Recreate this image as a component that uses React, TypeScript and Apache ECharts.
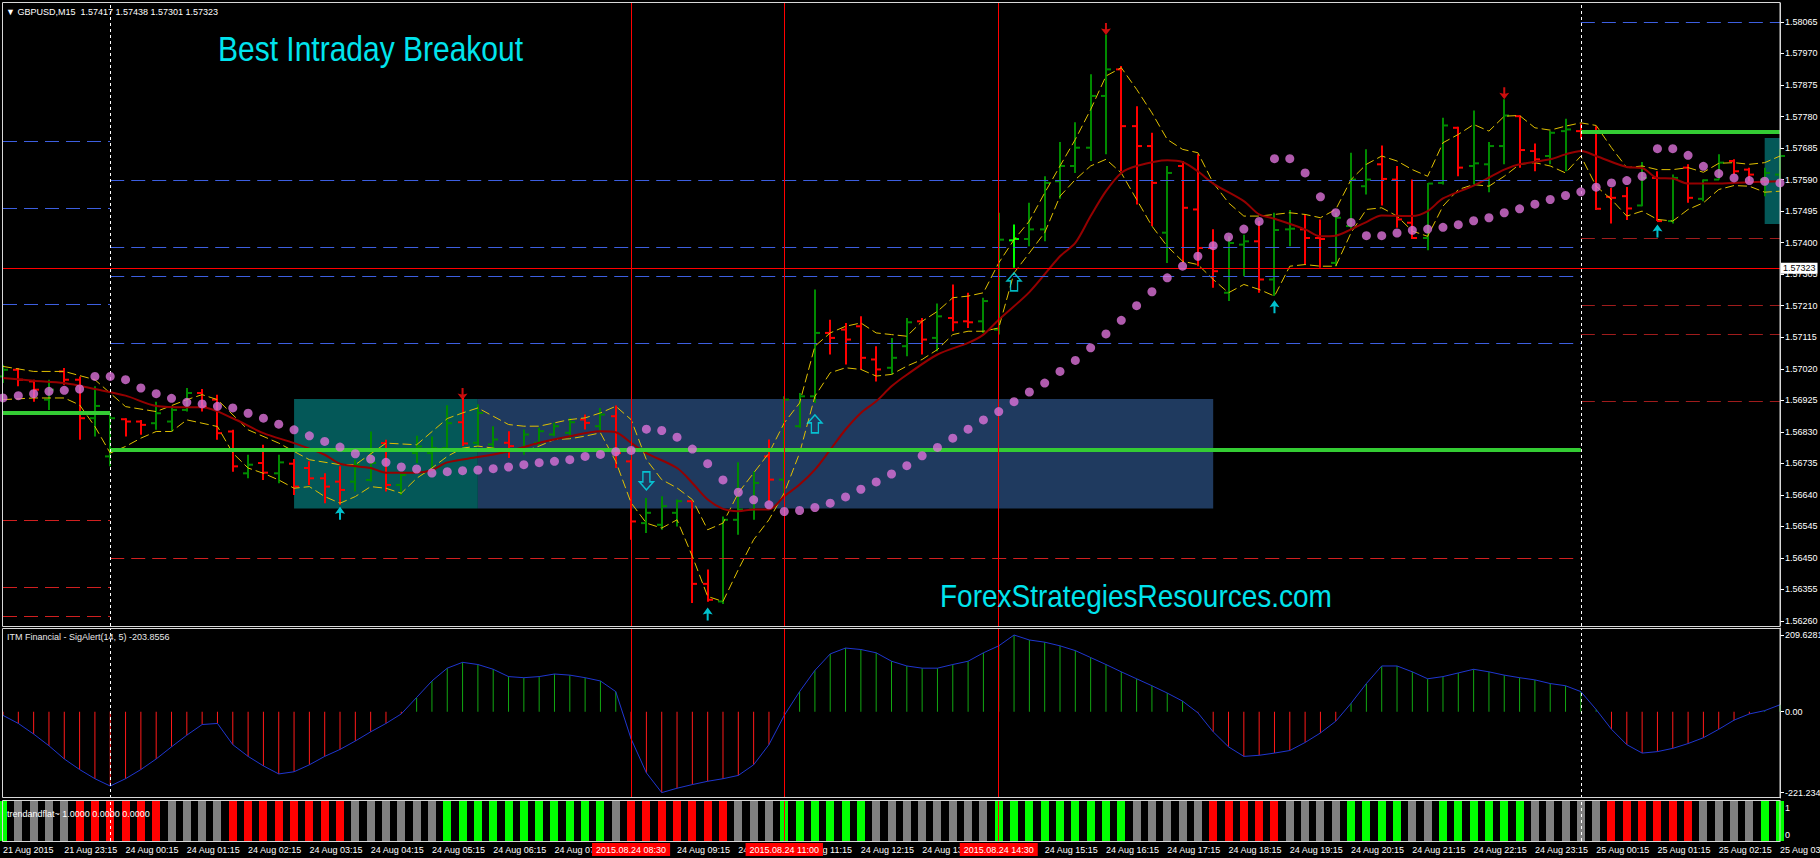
import React, { useEffect, useRef } from "react";
import * as echarts from "echarts";

// ---------- DATA ----------
const TICK_LABELS = [
  "21 Aug 2015", "21 Aug 23:15",
  "24 Aug 00:15", "24 Aug 01:15", "24 Aug 02:15", "24 Aug 03:15", "24 Aug 04:15", "24 Aug 05:15",
  "24 Aug 06:15", "24 Aug 07:15", "24 Aug 08:15", "24 Aug 09:15", "24 Aug 10:15", "24 Aug 11:15",
  "24 Aug 12:15", "24 Aug 13:15", "24 Aug 14:15", "24 Aug 15:15", "24 Aug 16:15", "24 Aug 17:15",
  "24 Aug 18:15", "24 Aug 19:15", "24 Aug 20:15", "24 Aug 21:15", "24 Aug 22:15", "24 Aug 23:15",
  "25 Aug 00:15", "25 Aug 01:15", "25 Aug 02:15", "25 Aug 03:15",
];

const OPEN = [
  1.56997, 1.57017, 1.56982, 1.56927, 1.57012, 1.56987, 1.56871, 1.56756, 1.56868, 1.56861,
  1.56856, 1.56861, 1.56896, 1.56947, 1.56927, 1.56831, 1.56705, 1.56736, 1.56705, 1.56734,
  1.56721, 1.56690, 1.56680, 1.56680, 1.56685, 1.56796, 1.56670, 1.56766, 1.56766, 1.56781,
  1.56859, 1.56797, 1.56792, 1.56797, 1.56776, 1.56797, 1.56822, 1.56827, 1.56867, 1.56847,
  1.56877, 1.56741, 1.56555, 1.56550, 1.56586, 1.56621, 1.56372, 1.56319, 1.56565, 1.56596,
  1.56756, 1.56686, 1.56847, 1.56937, 1.57128, 1.57138, 1.57148, 1.57048, 1.57023, 1.57088,
  1.57163, 1.57113, 1.57173, 1.57163, 1.57163, 1.57138, 1.57407, 1.57411, 1.57440, 1.57585,
  1.57631, 1.57686, 1.57842, 1.57922, 1.57751, 1.57691, 1.57430, 1.57631, 1.57500, 1.57384,
  1.57249, 1.57394, 1.57404, 1.57289, 1.57440, 1.57440, 1.57414, 1.57339, 1.57450, 1.57570,
  1.57636, 1.57590, 1.57460, 1.57414, 1.57580, 1.57746, 1.57631, 1.57636, 1.57691, 1.57781,
  1.57676, 1.57661, 1.57736, 1.57736, 1.57736, 1.57538, 1.57540, 1.57512, 1.57595, 1.57465,
  1.57626, 1.57532, 1.57590, 1.57646, 1.57620, 1.57590, 1.57605,
];
const HIGH = [
  1.57032, 1.57022, 1.56987, 1.56987, 1.57022, 1.56997, 1.56967, 1.56881, 1.56871, 1.56866,
  1.56921, 1.56906, 1.56962, 1.56959, 1.56942, 1.56836, 1.56761, 1.56791, 1.56761, 1.56748,
  1.56741, 1.56705, 1.56726, 1.56746, 1.56831, 1.56806, 1.56705, 1.56818, 1.56816, 1.56910,
  1.56932, 1.56912, 1.56847, 1.56832, 1.56837, 1.56842, 1.56857, 1.56872, 1.56882, 1.56902,
  1.56909, 1.56746, 1.56631, 1.56636, 1.56626, 1.56620, 1.56415, 1.56575, 1.56738, 1.56711,
  1.56807, 1.56937, 1.56947, 1.57259, 1.57168, 1.57158, 1.57178, 1.57088, 1.57113, 1.57173,
  1.57173, 1.57217, 1.57274, 1.57249, 1.57234, 1.57490, 1.57455, 1.57520, 1.57600, 1.57703,
  1.57763, 1.57907, 1.58027, 1.57932, 1.57811, 1.57731, 1.57631, 1.57646, 1.57666, 1.57440,
  1.57419, 1.57424, 1.57465, 1.57490, 1.57498, 1.57485, 1.57470, 1.57490, 1.57671, 1.57681,
  1.57693, 1.57631, 1.57590, 1.57580, 1.57776, 1.57749, 1.57798, 1.57703, 1.57832, 1.57783,
  1.57699, 1.57736, 1.57773, 1.57759, 1.57751, 1.57565, 1.57568, 1.57643, 1.57615, 1.57605,
  1.57636, 1.57590, 1.57666, 1.57651, 1.57626, 1.57626, 1.57681,
];
const LOW = [
  1.56977, 1.56967, 1.56921, 1.56896, 1.56972, 1.56806, 1.56816, 1.56726, 1.56816, 1.56821,
  1.56836, 1.56831, 1.56891, 1.56891, 1.56806, 1.56710, 1.56690, 1.56685, 1.56675, 1.56640,
  1.56670, 1.56615, 1.56610, 1.56650, 1.56680, 1.56650, 1.56640, 1.56736, 1.56715, 1.56770,
  1.56787, 1.56787, 1.56781, 1.56751, 1.56761, 1.56787, 1.56817, 1.56812, 1.56837, 1.56832,
  1.56721, 1.56505, 1.56525, 1.56535, 1.56545, 1.56314, 1.56318, 1.56311, 1.56520, 1.56565,
  1.56621, 1.56636, 1.56842, 1.56917, 1.57063, 1.57033, 1.57018, 1.56982, 1.57003, 1.57058,
  1.57063, 1.57073, 1.57133, 1.57143, 1.57128, 1.57123, 1.57324, 1.57389, 1.57404, 1.57532,
  1.57610, 1.57646, 1.57666, 1.57615, 1.57515, 1.57450, 1.57339, 1.57339, 1.57329, 1.57264,
  1.57224, 1.57299, 1.57249, 1.57239, 1.57389, 1.57334, 1.57324, 1.57329, 1.57440, 1.57545,
  1.57512, 1.57445, 1.57411, 1.57377, 1.57575, 1.57600, 1.57575, 1.57552, 1.57636, 1.57626,
  1.57615, 1.57636, 1.57615, 1.57713, 1.57498, 1.57458, 1.57468, 1.57510, 1.57465, 1.57458,
  1.57520, 1.57525, 1.57590, 1.57605, 1.57585, 1.57540, 1.57590,
];
const CLOSE = [
  1.57017, 1.56987, 1.56957, 1.56957, 1.56987, 1.56871, 1.56908, 1.56871, 1.56861, 1.56851,
  1.56886, 1.56896, 1.56947, 1.56906, 1.56826, 1.56726, 1.56731, 1.56707, 1.56738, 1.56665,
  1.56690, 1.56665, 1.56655, 1.56731, 1.56736, 1.56670, 1.56700, 1.56786, 1.56781, 1.56856,
  1.56795, 1.56887, 1.56807, 1.56787, 1.56822, 1.56832, 1.56847, 1.56859, 1.56857, 1.56882,
  1.56766, 1.56560, 1.56586, 1.56606, 1.56621, 1.56372, 1.56324, 1.56565, 1.56596, 1.56676,
  1.56686, 1.56927, 1.56937, 1.57128, 1.57113, 1.57108, 1.57053, 1.57018, 1.57053, 1.57160,
  1.57108, 1.57178, 1.57160, 1.57160, 1.57224, 1.57409, 1.57411, 1.57440, 1.57580, 1.57631,
  1.57686, 1.57842, 1.57922, 1.57751, 1.57691, 1.57580, 1.57610, 1.57505, 1.57384, 1.57314,
  1.57399, 1.57404, 1.57289, 1.57438, 1.57442, 1.57414, 1.57411, 1.57475, 1.57590, 1.57590,
  1.57592, 1.57470, 1.57414, 1.57578, 1.57753, 1.57626, 1.57639, 1.57691, 1.57783, 1.57679,
  1.57651, 1.57731, 1.57741, 1.57731, 1.57502, 1.57535, 1.57503, 1.57595, 1.57465, 1.57595,
  1.57535, 1.57588, 1.57641, 1.57615, 1.57605, 1.57610, 1.57661,
];
const HIGHLIGHT_BARS = [66];

const SAR = [
  1.56932, 1.56939, 1.56945, 1.56952, 1.56955, 1.56959, 1.56997, 1.56997, 1.56987, 1.56962,
  1.56945, 1.56931, 1.56919, 1.56914, 1.56907, 1.56902, 1.56886, 1.56871, 1.56853, 1.56836,
  1.56818, 1.56801, 1.56784, 1.56764, 1.56748, 1.56738, 1.56724, 1.56718, 1.56706, 1.56710,
  1.56713, 1.56715, 1.56719, 1.56724, 1.56731, 1.56737, 1.56741, 1.56746, 1.56756, 1.56762,
  1.56770, 1.56774, 1.56838, 1.56834, 1.56814, 1.56778, 1.56734, 1.56685, 1.56648, 1.56625,
  1.56610, 1.56590, 1.56593, 1.56602, 1.56615, 1.56634, 1.56657, 1.56679, 1.56703, 1.56728,
  1.56758, 1.56783, 1.56811, 1.56838, 1.56866, 1.56891, 1.56921, 1.56950, 1.56977, 1.57012,
  1.57045, 1.57083, 1.57125, 1.57166, 1.57210, 1.57252, 1.57294, 1.57329, 1.57359, 1.57391,
  1.57417, 1.57441, 1.57464, 1.57653, 1.57653, 1.57610, 1.57538, 1.57490, 1.57461, 1.57421,
  1.57421, 1.57429, 1.57437, 1.57441, 1.57446, 1.57454, 1.57466, 1.57475, 1.57490, 1.57502,
  1.57516, 1.57530, 1.57542, 1.57553, 1.57567, 1.57580, 1.57587, 1.57600, 1.57683, 1.57683,
  1.57663, 1.57630, 1.57608, 1.57595, 1.57587, 1.57585, 1.57580,
];

const MA = [
  [0, 1.56992], [2, 1.56984], [4, 1.56977], [6, 1.56959], [8, 1.56939], [10, 1.56908], [12, 1.56904],
  [13, 1.56904], [15, 1.56871], [17, 1.56826], [19, 1.56796], [21, 1.56761], [22, 1.56734], [24, 1.56721],
  [25, 1.56707], [27, 1.56707], [28, 1.56715], [29, 1.56738], [31, 1.56754], [33, 1.56771], [35, 1.56797],
  [37, 1.56817], [39, 1.56832], [40, 1.56829], [41, 1.56797], [42, 1.56766], [44, 1.56721], [45, 1.56676],
  [46, 1.56626], [47, 1.56598], [48, 1.56591], [49, 1.56596], [50, 1.56596], [51, 1.56636], [52, 1.56671],
  [53, 1.56716], [54, 1.56776], [55, 1.56837], [56, 1.56887], [57, 1.56922], [58, 1.56967], [59, 1.57002],
  [61, 1.57063], [63, 1.57098], [64, 1.57123], [65, 1.57168], [67, 1.57251], [69, 1.57359], [70, 1.57399],
  [71, 1.57480], [72, 1.57555], [73, 1.57610], [74, 1.57631], [76, 1.57648], [77, 1.57643], [78, 1.57615],
  [79, 1.57578], [81, 1.57525], [82, 1.57485], [83, 1.57472], [85, 1.57440], [86, 1.57419], [87, 1.57421],
  [88, 1.57440], [89, 1.57462], [90, 1.57482], [92, 1.57480], [93, 1.57495], [94, 1.57533], [96, 1.57572],
  [98, 1.57620], [99, 1.57636], [101, 1.57651], [102, 1.57666], [103, 1.57676], [104, 1.57661], [106, 1.57628],
  [107, 1.57625], [108, 1.57595], [109, 1.57593], [110, 1.57578], [112, 1.57578], [114, 1.57582], [116, 1.57585],
];

const UPPER = [
  [0, 1.57027], [2, 1.57012], [4, 1.57012], [6, 1.56987], [8, 1.56906], [10, 1.56891], [12, 1.56927],
  [13, 1.56942], [14, 1.56927], [16, 1.56836], [18, 1.56796], [20, 1.56746], [22, 1.56731], [23, 1.56731],
  [25, 1.56796], [27, 1.56791], [29, 1.56870], [30, 1.56887], [31, 1.56902], [32, 1.56877], [33, 1.56852],
  [34, 1.56847], [35, 1.56847], [36, 1.56857], [37, 1.56867], [38, 1.56872], [39, 1.56887], [40, 1.56907],
  [41, 1.56867], [42, 1.56746], [43, 1.56686], [44, 1.56661], [45, 1.56626], [46, 1.56535], [47, 1.56555],
  [48, 1.56646], [49, 1.56706], [50, 1.56766], [51, 1.56857], [52, 1.56917], [53, 1.57088], [54, 1.57128],
  [55, 1.57148], [56, 1.57158], [57, 1.57128], [58, 1.57123], [59, 1.57118], [60, 1.57163], [61, 1.57193],
  [62, 1.57234], [63, 1.57239], [64, 1.57249], [65, 1.57339], [66, 1.57409], [67, 1.57465], [68, 1.57550],
  [69, 1.57631], [70, 1.57711], [71, 1.57801], [72, 1.57902], [73, 1.57927], [74, 1.57862], [75, 1.57791],
  [76, 1.57711], [77, 1.57681], [78, 1.57671], [79, 1.57580], [80, 1.57520], [81, 1.57480], [82, 1.57480],
  [83, 1.57485], [84, 1.57490], [85, 1.57485], [86, 1.57475], [87, 1.57500], [88, 1.57590], [89, 1.57636],
  [90, 1.57661], [91, 1.57646], [92, 1.57620], [93, 1.57600], [94, 1.57701], [95, 1.57726], [96, 1.57756],
  [97, 1.57736], [98, 1.57781], [99, 1.57783], [100, 1.57746], [101, 1.57739], [102, 1.57751], [103, 1.57761],
  [104, 1.57753], [105, 1.57686], [106, 1.57626], [107, 1.57631], [108, 1.57620], [109, 1.57620], [110, 1.57626],
  [111, 1.57612], [112, 1.57639], [113, 1.57641], [114, 1.57636], [115, 1.57641], [116, 1.57661],
];

const LOWER = [
  [0, 1.56927], [2, 1.56932], [4, 1.56932], [5, 1.56911], [6, 1.56846], [7, 1.56766], [8, 1.56786],
  [9, 1.56811], [10, 1.56831], [11, 1.56831], [12, 1.56866], [14, 1.56846], [15, 1.56766], [16, 1.56721],
  [17, 1.56705], [18, 1.56685], [19, 1.56660], [20, 1.56665], [21, 1.56635], [22, 1.56615], [23, 1.56635],
  [24, 1.56665], [25, 1.56660], [26, 1.56645], [27, 1.56690], [28, 1.56721], [29, 1.56756], [30, 1.56781],
  [31, 1.56787], [32, 1.56781], [33, 1.56771], [34, 1.56771], [35, 1.56787], [36, 1.56807], [37, 1.56809],
  [38, 1.56817], [39, 1.56827], [40, 1.56741], [41, 1.56616], [42, 1.56555], [43, 1.56540], [44, 1.56565],
  [45, 1.56455], [46, 1.56334], [47, 1.56319], [48, 1.56415], [49, 1.56505], [50, 1.56565], [51, 1.56646],
  [52, 1.56766], [53, 1.56937], [54, 1.57008], [55, 1.57023], [56, 1.57018], [57, 1.56998], [58, 1.57003],
  [59, 1.57028], [60, 1.57048], [61, 1.57078], [62, 1.57123], [63, 1.57133], [64, 1.57133], [65, 1.57143],
  [66, 1.57309], [67, 1.57369], [68, 1.57430], [69, 1.57540], [70, 1.57590], [71, 1.57631], [72, 1.57651],
  [73, 1.57610], [74, 1.57530], [75, 1.57450], [76, 1.57389], [77, 1.57344], [78, 1.57334], [79, 1.57289],
  [80, 1.57249], [81, 1.57274], [82, 1.57259], [83, 1.57239], [84, 1.57329], [85, 1.57334], [86, 1.57329],
  [87, 1.57329], [88, 1.57430], [89, 1.57500], [90, 1.57505], [91, 1.57480], [92, 1.57435], [93, 1.57419],
  [94, 1.57510], [95, 1.57560], [96, 1.57575], [97, 1.57570], [98, 1.57600], [99, 1.57636], [100, 1.57641],
  [101, 1.57631], [102, 1.57610], [103, 1.57661], [104, 1.57570], [105, 1.57530], [106, 1.57480], [107, 1.57495],
  [108, 1.57470], [109, 1.57465], [110, 1.57500], [111, 1.57520], [112, 1.57560], [113, 1.57572], [114, 1.57570],
  [115, 1.57552], [116, 1.57555],
];

const SIG = [
  -10, -32, -61, -93, -129, -158, -183, -203, -183, -158,
  -129, -96, -64, -35, -32, -90, -122, -148, -170, -164,
  -145, -122, -103, -80, -55, -32, -6, 39, 84, 119,
  135, 129, 116, 96, 93, 96, 103, 100, 93, 84,
  55, -74, -167, -221, -209, -199, -190, -183, -174, -145,
  -90, -10, 55, 113, 158, 174, 170, 161, 138, 125,
  119, 119, 129, 138, 161, 180, 209.6, 196, 190, 180,
  167, 148, 129, 109, 90, 71, 51, 29, -3, -55,
  -96, -122, -119, -113, -106, -84, -58, -26, 23, 77,
  125, 125, 109, 90, 96, 106, 116, 109, 100, 93,
  87, 77, 71, 55, 6, -48, -90, -113, -109, -100,
  -87, -71, -48, -23, -6, 3, 19,
];

// L = lime (trend up), R = red (trend down), G = grey (flat)
const TREND = [
  "L", "GGGG", "RRRRRR", "GGGG", "RRRRRRRR", "GGGGGG", "LLLLLLLLLLL", "G", "RRRRRRR", "GGG",
  "LLLLLL", "GGGGGGGG", "LLLLLLLLL", "GGGGG", "RRRRR", "GGGG", "LLLL", "GG", "LLLLLL", "GGGGG",
  "RRRRRR", "GGGG", "LL",
].join("");

const PRICE_TICKS = [
  1.5626, 1.56355, 1.5645, 1.56545, 1.5664, 1.56735, 1.5683, 1.56925, 1.5702, 1.57115,
  1.5721, 1.57305, 1.574, 1.57495, 1.5759, 1.57685, 1.5778, 1.57875, 1.5797, 1.58065,
];
const SIG_TICKS = [-221.2348, 0, 209.6281];
const STRIP_TICKS = [0, 1];

// pivot levels per day: [fromBar, toBar, price]
const BLUE_LEVELS = [
  [0, 7, 1.57705], [0, 7, 1.57505], [0, 7, 1.57215],
  [7, 103, 1.57589], [7, 103, 1.57387], [7, 103, 1.573], [7, 103, 1.57096],
  [103, 116, 1.58065],
];
const RED_LEVELS = [
  [0, 7, 1.56564], [0, 7, 1.56363], [0, 7, 1.56273], [7, 103, 1.56449],
];
const DARKRED_LEVELS = [
  [103, 116, 1.57413], [103, 116, 1.57212], [103, 116, 1.57124], [103, 116, 1.56921],
];
const GREEN_LEVELS = [[0, 7, 1.56887], [7, 103, 1.56775], [103, 116, 1.57734]];

// boxes: [fromBar, toBar, top, bottom, color]
const BOXES = [
  [19, 31, 1.56929, 1.56599, "#045858"],
  [31, 79, 1.56929, 1.56599, "#1f3a5f"],
  [115, 116, 1.57715, 1.57456, "#045858"],
];

const SIGNAL_BARS = [41, 51, 65];
const SIGNAL_TIMES = ["2015.08.24 08:30", "2015.08.24 11:00", "2015.08.24 14:30"];
const DAY_SEPARATORS = [7, 103];
const CURRENT_PRICE = 1.57323;
const ASK_PRICE = 1.5734;

const DOWN_ARROWS = [[30, 1.56944], [72, 1.58044], [98, 1.5785]];
const UP_ARROWS = [[22, 1.56585], [46, 1.56281], [83, 1.57207], [108, 1.57435]];
const HOLLOW_DOWN = [[42, 1.56682]];
const HOLLOW_UP = [[53, 1.56854], [66, 1.57282]];
const NOTES = [
  { bar: 42, price: 1.56827, text: "Sell" },
  { bar: 53, price: 1.56817, text: "Buy" },
  { bar: 66, price: 1.57182, text: "re-entry" },
];

// ---------- CHART ----------
const FONT = "Liberation Sans";
const CYAN = "#00e4ee";
const CATS = OPEN.map((_, i) => String(i));

function buildOption() {
  const candleData = OPEN.map((o, i) => [
    i, o, HIGH[i], LOW[i], CLOSE[i],
    HIGHLIGHT_BARS.includes(i) ? 2 : CLOSE[i] >= o ? 1 : 0,
  ]);
  const trendData = TREND.split("").map((ch, i) => [i, "LRG".indexOf(ch)]);
  const trendColors = ["#00ff00", "#ff0000", "#808080"];

  const seg = (arr: number[][], style: any) =>
    arr.map(([s, e, p]) => [
      { coord: [s, p], lineStyle: style },
      { coord: [e, p], lineStyle: style },
    ]);

  const verticals = [
    ...SIGNAL_BARS.map((b) => ({ xAxis: b, lineStyle: { color: "#ff0000", width: 1, type: "solid" } })),
    ...DAY_SEPARATORS.map((b) => ({ xAxis: b, lineStyle: { color: "#ffffff", width: 1, type: [3, 3] } })),
  ];

  const mainAxisLabel = { color: "#ffffff", fontSize: 9, fontFamily: FONT, margin: 5 };

  const yCommon = {
    type: "value",
    position: "right",
    splitLine: { show: false },
    axisLine: { show: true, lineStyle: { color: "#d8d8d8" } },
  };

  return {
    animation: false,
    backgroundColor: "#000000",
    textStyle: { fontFamily: FONT },
    grid: [
      { left: 3, right: 40, top: 3, height: 623, containLabel: false, outerBoundsMode: "none" },
      { left: 3, right: 40, top: 628, height: 170, containLabel: false, outerBoundsMode: "none" },
      { left: 3, right: 40, top: 801, height: 40, containLabel: false, outerBoundsMode: "none" },
    ],
    xAxis: [0, 1, 2].map((g) => ({
      type: "category",
      gridIndex: g,
      data: CATS,
      boundaryGap: false,
      axisLine: { show: false },
      splitLine: { show: false },
      axisTick:
        g === 2
          ? { show: true, interval: (i: number) => i % 4 === 0, length: 4, lineStyle: { color: "#ffffff" } }
          : { show: false },
      axisLabel:
        g === 2
          ? {
              show: true,
              interval: (i: number) => i % 4 === 0,
              formatter: (_v: string, i: number) => TICK_LABELS[i / 4] || "",
              align: "left",
              color: "#ffffff",
              fontSize: 9,
              fontFamily: FONT,
              margin: 4,
            }
          : { show: false },
    })),
    yAxis: [
      {
        ...yCommon,
        gridIndex: 0,
        min: 1.56245,
        max: 1.58122,
        axisTick: { show: true, length: 4, customValues: PRICE_TICKS, lineStyle: { color: "#ffffff" } },
        axisLabel: { ...mainAxisLabel, customValues: PRICE_TICKS, formatter: (v: number) => v.toFixed(5) },
      },
      {
        ...yCommon,
        gridIndex: 1,
        min: -235.7,
        max: 228.75,
        axisTick: { show: true, length: 4, customValues: SIG_TICKS, lineStyle: { color: "#ffffff" } },
        axisLabel: {
          ...mainAxisLabel,
          customValues: SIG_TICKS,
          formatter: (v: number) => (v === 0 ? "0.00" : v.toFixed(4)),
        },
      },
      {
        ...yCommon,
        gridIndex: 2,
        min: -0.222,
        max: 1.259,
        axisTick: { show: true, length: 4, customValues: STRIP_TICKS, lineStyle: { color: "#ffffff" } },
        axisLabel: { ...mainAxisLabel, customValues: STRIP_TICKS, formatter: (v: number) => String(v) },
      },
    ],
    series: [
      {
        name: "levels",
        type: "line",
        xAxisIndex: 0,
        yAxisIndex: 0,
        data: CLOSE,
        symbol: "none",
        silent: true,
        lineStyle: { opacity: 0, width: 0 },
        z: 1,
        markArea: {
          silent: true,
          data: BOXES.map(([s, e, t, b, c]) => [
            { xAxis: s, yAxis: t, itemStyle: { color: c, opacity: 1 } },
            { xAxis: e, yAxis: b },
          ]),
        },
        markLine: {
          silent: true,
          precision: 5,
          symbol: ["none", "none"],
          label: { show: false },
          data: [
            ...seg(BLUE_LEVELS, { color: "#3d5fe0", width: 1, type: [14, 7] }),
            ...seg(RED_LEVELS, { color: "#d02020", width: 1, type: [14, 7] }),
            ...seg(DARKRED_LEVELS, { color: "#a01c1c", width: 1, type: [14, 7] }),
            ...seg(GREEN_LEVELS, { color: "#34cc34", width: 4, type: "solid" }),
            ...verticals,
            {
              yAxis: ASK_PRICE,
              lineStyle: { opacity: 0 },
              label: {
                show: true, position: "end", distance: 1, formatter: ASK_PRICE.toFixed(5),
                backgroundColor: "#ff0000", color: "#ffffff", fontSize: 9, padding: [1, 2, 1, 2],
              },
            },
            {
              yAxis: CURRENT_PRICE,
              lineStyle: { color: "#ff0000", width: 1, type: "solid" },
              label: {
                show: true, position: "end", distance: 1, formatter: CURRENT_PRICE.toFixed(5),
                backgroundColor: "#ffffff", color: "#000000", fontSize: 9, padding: [1, 2, 1, 2],
              },
            },
          ],
        },
      },
      {
        name: "bars",
        type: "custom",
        xAxisIndex: 0,
        yAxisIndex: 0,
        z: 3,
        silent: true,
        encode: { x: 0, y: [1, 2, 3, 4] },
        data: candleData,
        renderItem: (_p: any, api: any) => {
          const i = api.value(0);
          const pO = api.coord([i, api.value(1)]);
          const yH = api.coord([i, api.value(2)])[1];
          const yL = api.coord([i, api.value(3)])[1];
          const yC = api.coord([i, api.value(4)])[1];
          const k = api.value(5);
          const color = k === 2 ? "#00ff00" : k === 1 ? "#008a00" : "#ff0000";
          const x = Math.round(pO[0]);
          const st = { stroke: color, lineWidth: 2 };
          return {
            type: "group",
            children: [
              { type: "line", shape: { x1: x, y1: yH, x2: x, y2: yL }, style: st },
              { type: "line", shape: { x1: x - 5, y1: pO[1], x2: x, y2: pO[1] }, style: st },
              { type: "line", shape: { x1: x, y1: yC, x2: x + 5, y2: yC }, style: st },
            ],
          };
        },
      },
      {
        name: "upper",
        type: "line",
        xAxisIndex: 0,
        yAxisIndex: 0,
        data: UPPER,
        symbol: "none",
        silent: true,
        z: 4,
        lineStyle: { color: "#e0c000", width: 1, type: [9, 4] },
      },
      {
        name: "lower",
        type: "line",
        xAxisIndex: 0,
        yAxisIndex: 0,
        data: LOWER,
        symbol: "none",
        silent: true,
        z: 4,
        lineStyle: { color: "#e0c000", width: 1, type: [9, 4] },
      },
      {
        name: "ma",
        type: "line",
        xAxisIndex: 0,
        yAxisIndex: 0,
        data: MA,
        symbol: "none",
        smooth: 0.3,
        silent: true,
        z: 4,
        lineStyle: { color: "#950000", width: 2 },
      },
      {
        name: "sar",
        type: "scatter",
        xAxisIndex: 0,
        yAxisIndex: 0,
        data: SAR.map((v, i) => [i, v]),
        symbol: "circle",
        symbolSize: 9,
        silent: true,
        z: 5,
        itemStyle: { color: "#dc72d8" },
      },
      {
        name: "down-arrows",
        type: "scatter",
        xAxisIndex: 0,
        yAxisIndex: 0,
        data: DOWN_ARROWS,
        symbol: "path://M4,0 L6,0 L6,7 L10,6 L5,13 L0,6 L4,7 Z",
        symbolSize: [10, 12],
        silent: true,
        z: 6,
        itemStyle: { color: "#ff1010" },
      },
      {
        name: "up-arrows",
        type: "scatter",
        xAxisIndex: 0,
        yAxisIndex: 0,
        data: UP_ARROWS,
        symbol: "path://M5,0 L10,7 L6,6 L6,13 L4,13 L4,6 L0,7 Z",
        symbolSize: [10, 13],
        silent: true,
        z: 6,
        itemStyle: { color: "#00f0ff" },
      },
      {
        name: "hollow-down",
        type: "scatter",
        xAxisIndex: 0,
        yAxisIndex: 0,
        data: HOLLOW_DOWN,
        symbol: "path://M4,0 L12,0 L12,10 L16,10 L8,18 L0,10 L4,10 Z",
        symbolSize: [14, 18],
        silent: true,
        z: 6,
        itemStyle: { color: "rgba(0,0,0,0)", borderColor: CYAN, borderWidth: 1.5 },
      },
      {
        name: "hollow-up",
        type: "scatter",
        xAxisIndex: 0,
        yAxisIndex: 0,
        data: HOLLOW_UP,
        symbol: "path://M8,0 L16,8 L12,8 L12,18 L4,18 L4,8 L0,8 Z",
        symbolSize: [14, 18],
        silent: true,
        z: 6,
        itemStyle: { color: "rgba(0,0,0,0)", borderColor: CYAN, borderWidth: 1.5 },
      },
      {
        name: "notes",
        type: "scatter",
        xAxisIndex: 0,
        yAxisIndex: 0,
        data: NOTES.map((n) => ({ name: n.text, value: [n.bar, n.price] })),
        symbolSize: 1,
        silent: true,
        z: 7,
        itemStyle: { opacity: 0 },
        label: {
          show: true,
          position: "inside",
          formatter: "{b}",
          color: CYAN,
          fontSize: 18,
          fontFamily: FONT,
        },
      },
      {
        name: "sig-hist",
        type: "bar",
        xAxisIndex: 1,
        yAxisIndex: 1,
        data: SIG,
        barWidth: 1,
        silent: true,
        itemStyle: { color: (p: any) => (p.value >= 0 ? "#12a812" : "#ff1a1a") },
        markLine: {
          silent: true,
          symbol: ["none", "none"],
          label: { show: false },
          data: verticals,
        },
      },
      {
        name: "sig-line",
        type: "line",
        xAxisIndex: 1,
        yAxisIndex: 1,
        data: SIG,
        symbol: "none",
        silent: true,
        z: 4,
        lineStyle: { color: "#1f36d0", width: 1 },
      },
      {
        name: "trend",
        type: "custom",
        xAxisIndex: 2,
        yAxisIndex: 2,
        silent: true,
        encode: { x: 0, y: 1 },
        data: trendData,
        renderItem: (_p: any, api: any) => {
          const i = api.value(0);
          const top = api.coord([i, 1.259]);
          const bottom = api.coord([i, -0.222]);
          return {
            type: "rect",
            shape: { x: Math.round(top[0]) - 4, y: top[1], width: 8, height: bottom[1] - top[1] },
            style: { fill: trendColors[api.value(1)] },
          };
        },
        markLine: {
          silent: true,
          symbol: ["none", "none"],
          label: { show: false },
          data: [
            ...SIGNAL_BARS.map((b, k) => ({
              xAxis: b,
              lineStyle: { color: "#ff0000", width: 1, type: "solid" },
              label: {
                show: true,
                position: "start",
                distance: 2,
                formatter: SIGNAL_TIMES[k],
                backgroundColor: "#ff0000",
                color: "#ffffff",
                fontSize: 9,
                fontFamily: FONT,
                padding: [2, 4, 2, 4],
              },
            })),
            ...DAY_SEPARATORS.map((b) => ({ xAxis: b, lineStyle: { color: "#ffffff", width: 1, type: [3, 3] } })),
          ],
        },
      },
    ],
    graphic: [
      { type: "rect", z: 50, silent: true, shape: { x: 2.5, y: 2.5, width: 1777.5, height: 624 },
        style: { fill: "none", stroke: "#d8d8d8", lineWidth: 1 } },
      { type: "rect", z: 50, silent: true, shape: { x: 2.5, y: 628.5, width: 1777.5, height: 169 },
        style: { fill: "none", stroke: "#d8d8d8", lineWidth: 1 } },
      { type: "rect", z: 50, silent: true, shape: { x: 2.5, y: 800.5, width: 1777.5, height: 41 },
        style: { fill: "none", stroke: "#d8d8d8", lineWidth: 1 } },
      { type: "text", z: 60, silent: true, x: 6, y: 12,
        style: { text: "▼ GBPUSD,M15  1.57417 1.57438 1.57301 1.57323", fill: "#ffffff",
          font: `9px "${FONT}"`, verticalAlign: "middle" } },
      { type: "text", z: 60, silent: true, x: 7, y: 637,
        style: { text: "ITM Financial - SigAlert(14, 5) -203.8556", fill: "#e8e8e8",
          font: `9px "${FONT}"`, verticalAlign: "middle" } },
      { type: "text", z: 60, silent: true, x: 7, y: 814,
        style: { text: "trendandflat~ 1.0000 0.0000 0.0000", fill: "#ffffff",
          font: `9px "${FONT}"`, verticalAlign: "middle" } },
      { type: "text", z: 60, silent: true, x: 218, y: 32, scaleY: 1.16,
        style: { text: "Best Intraday Breakout", fill: CYAN, font: `30px "${FONT}"`, verticalAlign: "top" } },
      { type: "text", z: 60, silent: true, x: 940, y: 580, scaleY: 1.15,
        style: { text: "ForexStrategiesResources.com", fill: CYAN, font: `28px "${FONT}"`, verticalAlign: "top" } },
    ],
  };
}

export default function App() {
  const ref = useRef<HTMLDivElement | null>(null);
  useEffect(() => {
    if (!ref.current) return;
    const chart = echarts.init(ref.current, undefined, { renderer: "svg" });
    chart.setOption(buildOption() as any);
    return () => chart.dispose();
  }, []);
  return (
    <div
      ref={ref}
      style={{ position: "fixed", left: 0, top: 0, width: 1820, height: 858, background: "#000" }}
    />
  );
}
